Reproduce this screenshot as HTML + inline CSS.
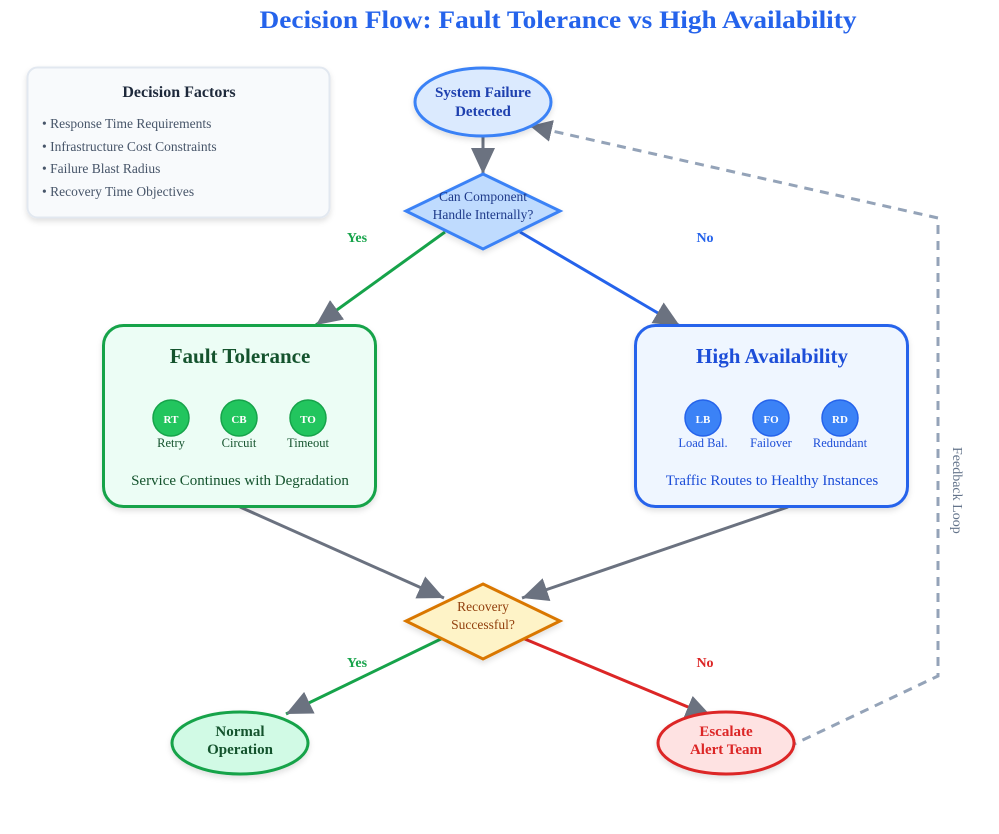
<!DOCTYPE html>
<html><head><meta charset="utf-8"><style>
html,body{margin:0;padding:0;background:#fff;}
svg{display:block;font-family:"Liberation Serif",serif;}
</style></head><body>
<svg width="999" height="834" viewBox="0 0 999 834" xmlns="http://www.w3.org/2000/svg">
<defs>
<marker id="ah" markerUnits="userSpaceOnUse" markerWidth="28" markerHeight="24" refX="26" refY="12" orient="auto">
<path d="M0,0 L26,12 L0,24 Z" fill="#6b7280"/>
</marker>
<marker id="ah2" markerUnits="userSpaceOnUse" markerWidth="24" markerHeight="22" refX="22" refY="11" orient="auto">
<path d="M0,0 L22,11 L0,22 Z" fill="#6b7280"/>
</marker>
<filter id="sh" x="-20%" y="-20%" width="140%" height="150%"><feDropShadow dx="0" dy="3" stdDeviation="3" flood-color="#000" flood-opacity="0.12"/></filter>
</defs>

<text x="558" y="28" text-anchor="middle" font-size="25" font-weight="bold" fill="#2563eb" textLength="597" lengthAdjust="spacingAndGlyphs">Decision Flow: Fault Tolerance vs High Availability</text>

<!-- legend -->
<rect x="27.5" y="67.5" width="302" height="150" rx="10" fill="#f8fafc" stroke="#e2e8f0" stroke-width="2" filter="url(#sh)"/>
<text x="179" y="97" text-anchor="middle" font-size="16" font-weight="bold" fill="#1e293b">Decision Factors</text>
<g font-size="13.5" fill="#475569">
<text x="42" y="128">• Response Time Requirements</text>
<text x="42" y="151">• Infrastructure Cost Constraints</text>
<text x="42" y="173">• Failure Blast Radius</text>
<text x="42" y="196">• Recovery Time Objectives</text>
</g>

<!-- feedback -->
<polyline points="788,747 938,676 938,218 530,126" fill="none" stroke="#94a3b8" stroke-width="3" stroke-dasharray="9,7" marker-end="url(#ah2)"/>
<text x="0" y="0" transform="translate(953,447) rotate(90)" font-size="14" fill="#64748b">Feedback Loop</text>

<!-- connectors -->
<line x1="483" y1="136" x2="483" y2="174" stroke="#6b7280" stroke-width="3" marker-end="url(#ah)"/>
<line x1="445" y1="232" x2="316" y2="325" stroke="#16a34a" stroke-width="3" marker-end="url(#ah)"/>
<line x1="520" y1="232" x2="680" y2="326" stroke="#2563eb" stroke-width="3" marker-end="url(#ah)"/>
<line x1="240" y1="507" x2="444" y2="598" stroke="#6b7280" stroke-width="3" marker-end="url(#ah)"/>
<line x1="788" y1="507" x2="522" y2="598" stroke="#6b7280" stroke-width="3" marker-end="url(#ah)"/>
<line x1="445" y1="637" x2="286" y2="714" stroke="#16a34a" stroke-width="3" marker-end="url(#ah)"/>
<line x1="520" y1="637" x2="712" y2="717" stroke="#dc2626" stroke-width="3" marker-end="url(#ah)"/>

<g font-size="14" font-weight="bold">
<text x="357" y="242" text-anchor="middle" fill="#16a34a">Yes</text>
<text x="705" y="242" text-anchor="middle" fill="#2563eb">No</text>
<text x="357" y="667" text-anchor="middle" fill="#16a34a">Yes</text>
<text x="705" y="667" text-anchor="middle" fill="#dc2626">No</text>
</g>

<!-- start -->
<ellipse cx="483" cy="102" rx="68" ry="34" fill="#dbeafe" stroke="#3b82f6" stroke-width="3" filter="url(#sh)"/>
<text x="483" y="97" text-anchor="middle" font-size="15" font-weight="bold" fill="#1e40af">System Failure</text>
<text x="483" y="116" text-anchor="middle" font-size="15" font-weight="bold" fill="#1e40af">Detected</text>

<!-- diamond 1 -->
<polygon points="483,174 560,211 483,249 406,211" fill="#bfdbfe" stroke="#3b82f6" stroke-width="3" filter="url(#sh)"/>
<text x="483" y="201" text-anchor="middle" font-size="13.5" fill="#1e3a8a">Can Component</text>
<text x="483" y="219" text-anchor="middle" font-size="13.5" fill="#1e3a8a">Handle Internally?</text>

<!-- FT box -->
<rect x="103.5" y="325.5" width="272" height="181" rx="20" fill="#ecfdf5" stroke="#16a34a" stroke-width="3" filter="url(#sh)"/>
<text x="240" y="363" text-anchor="middle" font-size="21" font-weight="bold" fill="#14532d">Fault Tolerance</text>
<g fill="#22c55e" stroke="#16a34a" stroke-width="1.5">
<circle cx="171" cy="418" r="18"/><circle cx="239" cy="418" r="18"/><circle cx="308" cy="418" r="18"/>
</g>
<g font-size="11" font-weight="bold" fill="#fff" text-anchor="middle">
<text x="171" y="423">RT</text><text x="239" y="423">CB</text><text x="308" y="423">TO</text>
</g>
<g font-size="12.5" fill="#14532d" text-anchor="middle">
<text x="171" y="447">Retry</text><text x="239" y="447">Circuit</text><text x="308" y="447">Timeout</text>
</g>
<text x="240" y="485" text-anchor="middle" font-size="15" fill="#14532d">Service Continues with Degradation</text>

<!-- HA box -->
<rect x="635.5" y="325.5" width="272" height="181" rx="20" fill="#eff6ff" stroke="#2563eb" stroke-width="3" filter="url(#sh)"/>
<text x="772" y="363" text-anchor="middle" font-size="21" font-weight="bold" fill="#1d4ed8">High Availability</text>
<g fill="#3b82f6" stroke="#2563eb" stroke-width="1.5">
<circle cx="703" cy="418" r="18"/><circle cx="771" cy="418" r="18"/><circle cx="840" cy="418" r="18"/>
</g>
<g font-size="11" font-weight="bold" fill="#fff" text-anchor="middle">
<text x="703" y="423">LB</text><text x="771" y="423">FO</text><text x="840" y="423">RD</text>
</g>
<g font-size="12.5" fill="#1d4ed8" text-anchor="middle">
<text x="703" y="447">Load Bal.</text><text x="771" y="447">Failover</text><text x="840" y="447">Redundant</text>
</g>
<text x="772" y="485" text-anchor="middle" font-size="15" fill="#1d4ed8">Traffic Routes to Healthy Instances</text>

<!-- diamond 2 -->
<polygon points="483,584 560,621 483,659 406,621" fill="#fef3c7" stroke="#d97706" stroke-width="3" filter="url(#sh)"/>
<text x="483" y="611" text-anchor="middle" font-size="13.5" fill="#92400e">Recovery</text>
<text x="483" y="629" text-anchor="middle" font-size="13.5" fill="#92400e">Successful?</text>

<!-- end nodes -->
<ellipse cx="240" cy="743" rx="68" ry="31" fill="#d1fae5" stroke="#16a34a" stroke-width="3" filter="url(#sh)"/>
<text x="240" y="736" text-anchor="middle" font-size="15" font-weight="bold" fill="#14532d">Normal</text>
<text x="240" y="754" text-anchor="middle" font-size="15" font-weight="bold" fill="#14532d">Operation</text>
<ellipse cx="726" cy="743" rx="68" ry="31" fill="#fee2e2" stroke="#dc2626" stroke-width="3" filter="url(#sh)"/>
<text x="726" y="736" text-anchor="middle" font-size="15" font-weight="bold" fill="#dc2626">Escalate</text>
<text x="726" y="754" text-anchor="middle" font-size="15" font-weight="bold" fill="#dc2626">Alert Team</text>
</svg>
</body></html>
